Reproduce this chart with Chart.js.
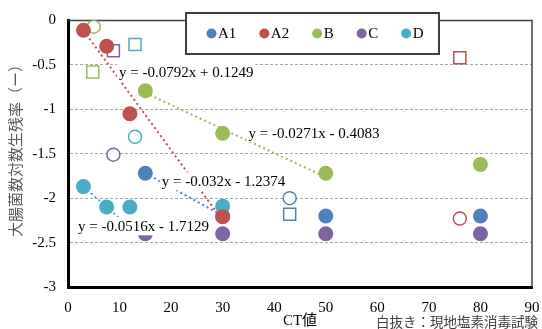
<!DOCTYPE html>
<html>
<head>
<meta charset="utf-8">
<script src="https://cdn.jsdelivr.net/npm/chart.js@4/dist/chart.umd.min.js"></script>
<style>
  html, body { margin: 0; padding: 0; background: #fff; }
  #wrap { width: 542px; height: 329px; }
</style>
</head>
<body>
<div id="wrap"><canvas id="ctChart" width="542" height="329"></canvas></div>
<script>
// lab test results (filled markers)
const seriesNames = ['A1', 'A2', 'B', 'C', 'D'];
const ctA1 = [15, 30, 50, 80];
const survA1 = [-1.72, -2.20, -2.20, -2.20];
const ctA2 = [3, 7.5, 12, 30];
const survA2 = [-0.11, -0.29, -1.05, -2.21];
const ctB = [15, 30, 50, 80];
const survB = [-0.79, -1.27, -1.72, -1.62];
const ctC = [15, 30, 50, 80];
const survC = [-2.40, -2.40, -2.40, -2.40];
const ctD = [3, 7.5, 12, 30];
const survD = [-1.87, -2.10, -2.10, -2.09];

// field chlorination tests (hollow markers), one per series in A1..D order
const fieldCircleCT = [43, 76, 5, 8.8, 13];
const fieldCircleSurv = [-2.00, -2.23, -0.07, -1.51, -1.31];
const fieldSquareCT = [43, 76, 4.8, 8.8, 13];
const fieldSquareSurv = [-2.18, -0.42, -0.58, -0.34, -0.27];

// linear trendlines (null = none), fitted over the first n lab points
const trendSlope = [-0.032, -0.0792, -0.0271, null, -0.0516];
const trendIntercept = [-1.2374, 0.1249, -0.4083, null, -1.7129];
const trendPoints = [2, 4, 3, 0, 3];

const xTicks = [0, 10, 20, 30, 40, 50, 60, 70, 80, 90];
const yTicks = [0, -0.5, -1, -1.5, -2, -2.5, -3];

const seriesCT = [ctA1, ctA2, ctB, ctC, ctD];
const seriesSurv = [survA1, survA2, survB, survC, survD];

const seriesColors = ['#4F81BD', '#C0504D', '#9BBB59', '#8064A2', '#4BACC6'];
const drawOrder = [4, 0, 3, 2, 1]; // lower is drawn on top
// where each trendline equation sits (data coords of left edge / middle)
const trendLabelAt = [[18.2, -1.81], [9.9, -0.585], [35.0, -1.265], null, [1.95, -2.317]];

const serif = '"Liberation Serif", "Times New Roman", serif';
const gothic = '"Noto Sans CJK JP", sans-serif';

function fmt(v) {
    return String(Math.round(v * 100) / 100);
}

function trendText(i) {
    const b = trendIntercept[i];
    return 'y = ' + trendSlope[i] + 'x ' + (b < 0 ? '- ' : '+ ') + Math.abs(b);
}

const datasets = [];
seriesNames.forEach((name, i) => {
    datasets.push({
        label: name,
        data: seriesCT[i].map((x, j) => ({ x: x, y: seriesSurv[i][j] })),
        pointRadius: 7.5,
        pointBackgroundColor: seriesColors[i],
        pointBorderColor: seriesColors[i],
        pointBorderWidth: 0,
        showLine: false,
        order: drawOrder[i]
    });
    datasets.push({
        label: name + ' 現地○',
        data: [{ x: fieldCircleCT[i], y: fieldCircleSurv[i] }],
        pointStyle: 'circle',
        pointRadius: 6.5,
        pointBackgroundColor: '#fff',
        pointBorderColor: seriesColors[i],
        pointBorderWidth: 1.5,
        showLine: false,
        order: 8
    });
    datasets.push({
        label: name + ' 現地□',
        data: [{ x: fieldSquareCT[i], y: fieldSquareSurv[i] }],
        pointStyle: 'rect',
        pointRadius: 8.5,
        pointBackgroundColor: '#fff',
        pointBorderColor: seriesColors[i],
        pointBorderWidth: 1.5,
        showLine: false,
        order: 8
    });
    if (trendSlope[i] !== null) {
        const used = seriesCT[i].slice(0, trendPoints[i]);
        const x0 = Math.min(...used);
        const x1 = Math.max(...used);
        datasets.push({
            label: name + ' trend',
            data: [
                { x: x0, y: trendSlope[i] * x0 + trendIntercept[i] },
                { x: x1, y: trendSlope[i] * x1 + trendIntercept[i] }
            ],
            showLine: true,
            borderColor: seriesColors[i],
            borderWidth: 2,
            borderDash: [2, 3],
            pointRadius: 0,
            order: 6
        });
    }
});

const extrasPlugin = {
    id: 'extras',
    beforeDatasetsDraw(chart) {
        const { ctx, chartArea: a } = chart;
        // thin top/right frame
        ctx.save();
        ctx.strokeStyle = '#404040';
        ctx.lineWidth = 1.5;
        ctx.beginPath();
        ctx.moveTo(a.left, a.top);
        ctx.lineTo(a.right, a.top);
        ctx.lineTo(a.right, a.bottom);
        ctx.stroke();
        ctx.restore();
    },
    afterDatasetsDraw(chart) {
        const { ctx, scales } = chart;
        ctx.save();
        ctx.font = '15px ' + serif;
        ctx.textBaseline = 'middle';
        ctx.textAlign = 'left';
        trendLabelAt.forEach((pos, i) => {
            if (!pos) return;
            const txt = trendText(i);
            const px = scales.x.getPixelForValue(pos[0]);
            const py = scales.y.getPixelForValue(pos[1]);
            const w = ctx.measureText(txt).width;
            ctx.fillStyle = '#fff';
            ctx.fillRect(px - 2, py - 9, w + 4, 18);
            ctx.fillStyle = '#000';
            ctx.fillText(txt, px, py + 1);
        });
        ctx.restore();
    },
    afterDraw(chart) {
        const { ctx } = chart;
        ctx.save();
        // legend box
        const box = { left: 186, top: 13, width: 253, height: 41 };
        ctx.fillStyle = '#fff';
        ctx.fillRect(box.left, box.top, box.width, box.height);
        ctx.strokeStyle = '#404040';
        ctx.lineWidth = 2;
        ctx.strokeRect(box.left, box.top, box.width, box.height);
        ctx.font = '15px ' + serif;
        ctx.textBaseline = 'middle';
        ctx.textAlign = 'left';
        const cy = box.top + 20.5;
        let x = box.left + 20.5;
        seriesNames.forEach((name, i) => {
            ctx.fillStyle = seriesColors[i];
            ctx.beginPath();
            ctx.arc(x + 5, cy, 5, 0, Math.PI * 2);
            ctx.fill();
            ctx.fillStyle = '#000';
            ctx.fillText(name, x + 11.5, cy + 1);
            x += 11.5 + ctx.measureText(name).width + 23;
        });

        // y axis title
        ctx.font = '15px ' + gothic;
        ctx.fillStyle = '#595959';
        ctx.textAlign = 'center';
        ctx.translate(15, 147);
        ctx.rotate(-Math.PI / 2);
        ctx.fillText('大腸菌数対数生残率（ー）', 0, 0);
        ctx.restore();

        // note
        ctx.save();
        ctx.font = '13.5px ' + gothic;
        ctx.fillStyle = '#404040';
        ctx.textAlign = 'right';
        ctx.textBaseline = 'middle';
        ctx.fillText('白抜き：現地塩素消毒試験', 538, 322);
        ctx.restore();
    }
};

const ctChart = new Chart(document.getElementById('ctChart').getContext('2d'), {
    type: 'scatter',
    data: { datasets: datasets },
    options: {
        responsive: false,
        animation: false,
        devicePixelRatio: 1,
        events: [],
        layout: { padding: { top: 20.5, right: 9, left: 0, bottom: 0 } },
        plugins: {
            legend: { display: false },
            tooltip: { enabled: false }
        },
        scales: {
            x: {
                type: 'linear',
                min: xTicks[0],
                max: xTicks[xTicks.length - 1],
                afterBuildTicks: (s) => { s.ticks = xTicks.map(v => ({ value: v })); },
                afterFit: (s) => { s.height = 42; s.paddingLeft = 0; s.paddingRight = 0; },
                grid: { display: false, drawTicks: false },
                border: { color: '#000', width: 3 },
                ticks: {
                    color: '#000',
                    padding: 12,
                    font: { family: serif, size: 15 },
                    callback: (v) => fmt(v)
                },
                title: {
                    display: true,
                    text: 'CT値',
                    color: '#000',
                    padding: 0,
                    font: { family: serif + ', "Noto Sans CJK JP"', size: 15, lineHeight: 1 }
                }
            },
            y: {
                min: yTicks[yTicks.length - 1],
                max: yTicks[0],
                afterBuildTicks: (s) => { s.ticks = yTicks.map(v => ({ value: v })); },
                afterFit: (s) => { s.width = 68; s.paddingTop = 0; s.paddingBottom = 0; },
                grid: { color: '#a6a6a6', lineWidth: 1, drawTicks: false },
                border: { color: '#000', width: 3, dash: [3, 2] },
                ticks: {
                    color: '#000',
                    padding: 12,
                    font: { family: serif, size: 15 },
                    callback: (v) => fmt(v)
                },
                title: { display: false }
            }
        }
    },
    plugins: [extrasPlugin]
});
</script>
</body>
</html>
